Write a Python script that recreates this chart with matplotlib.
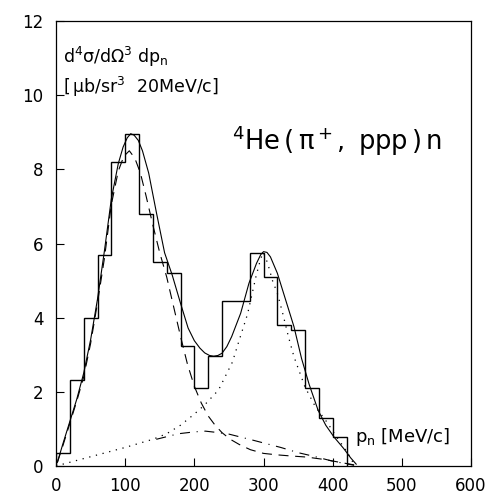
import numpy as np
import matplotlib
matplotlib.use("Agg")
import matplotlib.pyplot as plt

plt.rcParams.update({
    "font.family": "DejaVu Sans",
    "mathtext.fontset": "dejavusans",
    "mathtext.default": "regular",
    "xtick.labelsize": 12,
    "ytick.labelsize": 12,
})

# histogram, 20 MeV/c bins
bin_edges = [0, 20, 40, 60, 80, 100, 120, 140, 160, 180, 200, 220, 240,
             260, 280, 300, 320, 340, 360, 380, 400, 420]
counts = [0.36, 2.33, 4.0, 5.7, 8.2, 8.95, 6.8, 5.5, 5.2, 3.24, 2.1, 2.97,
          4.45, 4.45, 5.75, 5.1, 3.79, 3.66, 2.09, 1.3, 0.79]

# total fit (solid)
fit_x = [2, 10, 20, 30, 40, 50, 60, 70, 80, 90, 97, 103, 108, 113, 119, 125,
         134, 145, 157, 168, 180, 191, 200, 208, 215, 222, 228, 234, 240,
         247, 254, 267, 279, 290, 296, 300, 305, 310, 320, 332, 344, 355,
         366, 379, 390, 402, 416, 426, 434]
fit_y = [0.1, 0.6, 1.2, 1.8, 2.5, 3.4, 4.5, 5.8, 7.2, 8.15, 8.6, 8.85, 8.96,
         8.92, 8.78, 8.5, 7.9, 6.85, 5.75, 5.15, 4.39, 3.72, 3.38, 3.18,
         3.05, 2.98, 2.96, 2.98, 3.04, 3.22, 3.49, 4.12, 4.93, 5.47, 5.7,
         5.78, 5.76, 5.64, 5.2, 4.48, 3.76, 2.9, 2.2, 1.5, 1.1, 0.78, 0.47,
         0.22, 0.05]

# first component (dashed)
qf_x = [2, 10, 20, 30, 40, 50, 60, 70, 80, 90, 98, 106, 114, 122, 130, 140,
        150, 160, 170, 180, 190, 200, 210, 220, 230, 240, 252, 265, 281, 300,
        320, 340, 363, 390, 410, 431]
qf_y = [0.1, 0.55, 1.15, 1.75, 2.4, 3.3, 4.4, 5.6, 7.05, 7.95, 8.35, 8.5,
        8.3, 7.9, 7.3, 6.5, 5.75, 5.1, 4.3, 3.5, 2.75, 2.15, 1.7, 1.35, 1.1,
        0.9, 0.72, 0.58, 0.44, 0.34, 0.3, 0.27, 0.24, 0.17, 0.1, 0.03]

# small bump (dash-dot)
bump_x = [145, 177, 200, 216, 235, 250, 284, 325, 350, 373, 400, 431]
bump_y = [0.72, 0.87, 0.92, 0.94, 0.9, 0.86, 0.7, 0.5, 0.36, 0.26, 0.13, 0.02]

# second peak component (dotted)
fsi_x = [0, 50, 100, 140, 160, 180, 200, 215, 235, 255, 265, 277, 289, 296,
         300, 306, 313, 320, 328, 336, 344, 351, 360, 375, 393, 405, 416,
         425, 432]
fsi_y = [0.0, 0.25, 0.5, 0.72, 0.87, 1.1, 1.4, 1.65, 2.05, 2.8, 3.4, 4.1,
         5.1, 5.6, 5.75, 5.47, 5.0, 4.66, 4.1, 3.49, 2.95, 2.59, 2.13, 1.6,
         1.15, 0.8, 0.51, 0.25, 0.0]


def make_plot():
    fig = plt.figure(figsize=(4.91, 4.94), dpi=100)
    ax = fig.add_axes([56/491, 28/494, 415/491, 445/494])

    ax.stairs(counts, bin_edges, baseline=0, color='black', lw=1.0)
    ax.plot(fit_x, fit_y, color='black', lw=0.8)
    ax.plot(qf_x, qf_y, color='black', lw=0.8, linestyle=(0, (9, 6)))
    ax.plot(bump_x, bump_y, color='black', lw=0.8,
            linestyle=(0, (9, 6, 1, 6)))
    ax.plot(fsi_x, fsi_y, color='black', lw=0.9, linestyle=(0, (1, 4.5)))

    ax.set_xlim(0, 600)
    ax.set_ylim(0, 12)
    ax.set_xticks(np.arange(0, 601, 100))
    ax.set_yticks(np.arange(0, 13, 2))
    ax.tick_params(direction='in', length=6, width=0.8, top=False, right=False)
    ax.tick_params(axis='x', pad=8)
    ax.tick_params(axis='y', pad=9)
    for sp in ax.spines.values():
        sp.set_linewidth(0.9)

    ax.text(0.016, 0.905, r'$d^4\sigma/d\Omega^3\ dp_n$', transform=ax.transAxes,
            fontsize=12.5, ha='left', va='baseline')
    ax.text(0.018, 0.838, r'$[\,\mu b/sr^3\ \ 20MeV/c]$', transform=ax.transAxes,
            fontsize=12.5, ha='left', va='baseline')
    ax.text(0.425, 0.710, r'$^4He\,(\,\pi^+,\ ppp\,)\,n$', transform=ax.transAxes,
            fontsize=18.5, ha='left', va='baseline')
    ax.text(0.72, 0.055, r'$p_n\ [MeV/c]$', transform=ax.transAxes,
            fontsize=13, ha='left', va='baseline')

    plt.savefig("out.png", dpi=100)


def main():
    make_plot()


if __name__ == "__main__":
    main()
